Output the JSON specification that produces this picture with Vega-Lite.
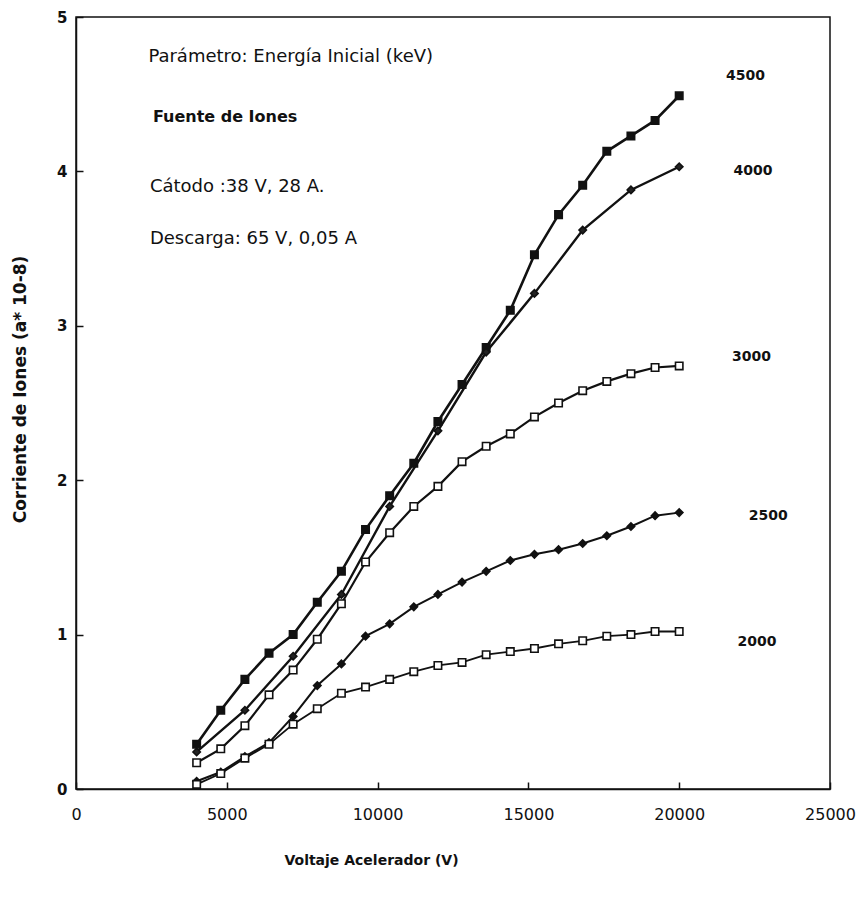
{
  "$schema": "https://vega.github.io/schema/vega-lite/v6.json",
  "autosize": "none",
  "padding": {"left": 76, "top": 17, "right": 33, "bottom": 113},
  "width": 754,
  "height": 772,
  "background": "white",
  "config": {
    "view": {"stroke": "#111", "strokeWidth": 1.5},
    "font": "DejaVu Sans"
  },
  "datasets": {
    "curves": [
      {"serie": "4500", "V": 4000, "I": 0.29}, {"serie": "4500", "V": 4800, "I": 0.51}, {"serie": "4500", "V": 5600, "I": 0.71}, {"serie": "4500", "V": 6400, "I": 0.88}, {"serie": "4500", "V": 7200, "I": 1.0}, {"serie": "4500", "V": 8000, "I": 1.21}, {"serie": "4500", "V": 8800, "I": 1.41}, {"serie": "4500", "V": 9600, "I": 1.68}, {"serie": "4500", "V": 10400, "I": 1.9}, {"serie": "4500", "V": 11200, "I": 2.11}, {"serie": "4500", "V": 12000, "I": 2.38}, {"serie": "4500", "V": 12800, "I": 2.62}, {"serie": "4500", "V": 13600, "I": 2.86}, {"serie": "4500", "V": 14400, "I": 3.1}, {"serie": "4500", "V": 15200, "I": 3.46}, {"serie": "4500", "V": 16000, "I": 3.72}, {"serie": "4500", "V": 16800, "I": 3.91}, {"serie": "4500", "V": 17600, "I": 4.13}, {"serie": "4500", "V": 18400, "I": 4.23}, {"serie": "4500", "V": 19200, "I": 4.33}, {"serie": "4500", "V": 20000, "I": 4.49},
      {"serie": "4000", "V": 4000, "I": 0.24}, {"serie": "4000", "V": 5600, "I": 0.51}, {"serie": "4000", "V": 7200, "I": 0.86}, {"serie": "4000", "V": 8800, "I": 1.26}, {"serie": "4000", "V": 10400, "I": 1.83}, {"serie": "4000", "V": 12000, "I": 2.32}, {"serie": "4000", "V": 13600, "I": 2.83}, {"serie": "4000", "V": 15200, "I": 3.21}, {"serie": "4000", "V": 16800, "I": 3.62}, {"serie": "4000", "V": 18400, "I": 3.88}, {"serie": "4000", "V": 20000, "I": 4.03},
      {"serie": "3000", "V": 4000, "I": 0.17}, {"serie": "3000", "V": 4800, "I": 0.26}, {"serie": "3000", "V": 5600, "I": 0.41}, {"serie": "3000", "V": 6400, "I": 0.61}, {"serie": "3000", "V": 7200, "I": 0.77}, {"serie": "3000", "V": 8000, "I": 0.97}, {"serie": "3000", "V": 8800, "I": 1.2}, {"serie": "3000", "V": 9600, "I": 1.47}, {"serie": "3000", "V": 10400, "I": 1.66}, {"serie": "3000", "V": 11200, "I": 1.83}, {"serie": "3000", "V": 12000, "I": 1.96}, {"serie": "3000", "V": 12800, "I": 2.12}, {"serie": "3000", "V": 13600, "I": 2.22}, {"serie": "3000", "V": 14400, "I": 2.3}, {"serie": "3000", "V": 15200, "I": 2.41}, {"serie": "3000", "V": 16000, "I": 2.5}, {"serie": "3000", "V": 16800, "I": 2.58}, {"serie": "3000", "V": 17600, "I": 2.64}, {"serie": "3000", "V": 18400, "I": 2.69}, {"serie": "3000", "V": 19200, "I": 2.73}, {"serie": "3000", "V": 20000, "I": 2.74},
      {"serie": "2500", "V": 4000, "I": 0.05}, {"serie": "2500", "V": 4800, "I": 0.11}, {"serie": "2500", "V": 5600, "I": 0.21}, {"serie": "2500", "V": 6400, "I": 0.3}, {"serie": "2500", "V": 7200, "I": 0.47}, {"serie": "2500", "V": 8000, "I": 0.67}, {"serie": "2500", "V": 8800, "I": 0.81}, {"serie": "2500", "V": 9600, "I": 0.99}, {"serie": "2500", "V": 10400, "I": 1.07}, {"serie": "2500", "V": 11200, "I": 1.18}, {"serie": "2500", "V": 12000, "I": 1.26}, {"serie": "2500", "V": 12800, "I": 1.34}, {"serie": "2500", "V": 13600, "I": 1.41}, {"serie": "2500", "V": 14400, "I": 1.48}, {"serie": "2500", "V": 15200, "I": 1.52}, {"serie": "2500", "V": 16000, "I": 1.55}, {"serie": "2500", "V": 16800, "I": 1.59}, {"serie": "2500", "V": 17600, "I": 1.64}, {"serie": "2500", "V": 18400, "I": 1.7}, {"serie": "2500", "V": 19200, "I": 1.77}, {"serie": "2500", "V": 20000, "I": 1.79},
      {"serie": "2000", "V": 4000, "I": 0.03}, {"serie": "2000", "V": 4800, "I": 0.1}, {"serie": "2000", "V": 5600, "I": 0.2}, {"serie": "2000", "V": 6400, "I": 0.29}, {"serie": "2000", "V": 7200, "I": 0.42}, {"serie": "2000", "V": 8000, "I": 0.52}, {"serie": "2000", "V": 8800, "I": 0.62}, {"serie": "2000", "V": 9600, "I": 0.66}, {"serie": "2000", "V": 10400, "I": 0.71}, {"serie": "2000", "V": 11200, "I": 0.76}, {"serie": "2000", "V": 12000, "I": 0.8}, {"serie": "2000", "V": 12800, "I": 0.82}, {"serie": "2000", "V": 13600, "I": 0.87}, {"serie": "2000", "V": 14400, "I": 0.89}, {"serie": "2000", "V": 15200, "I": 0.91}, {"serie": "2000", "V": 16000, "I": 0.94}, {"serie": "2000", "V": 16800, "I": 0.96}, {"serie": "2000", "V": 17600, "I": 0.99}, {"serie": "2000", "V": 18400, "I": 1.0}, {"serie": "2000", "V": 19200, "I": 1.02}, {"serie": "2000", "V": 20000, "I": 1.02}
    ],
    "labels": [
      {"label": "4500", "V": 22200, "I": 4.62},
      {"label": "4000", "V": 22450, "I": 4.0},
      {"label": "3000", "V": 22400, "I": 2.8},
      {"label": "2500", "V": 22950, "I": 1.77},
      {"label": "2000", "V": 22580, "I": 0.95}
    ],
    "notes": [
      {"text": "Parámetro: Energía Inicial (keV)", "V": 2400, "I": 4.74},
      {"text": "Cátodo :38 V, 28 A.", "V": 2450, "I": 3.9},
      {"text": "Descarga: 65 V, 0,05 A", "V": 2450, "I": 3.56}
    ],
    "boldnotes": [
      {"text": "Fuente de Iones", "V": 2550, "I": 4.35}
    ]
  },
  "encoding": {
    "x": {
      "field": "V", "type": "quantitative",
      "scale": {"domain": [0, 25000], "nice": false},
      "axis": {
        "values": [0, 5000, 10000, 15000, 20000, 25000],
        "format": "d", "grid": false,
        "domainColor": "#111", "domainWidth": 1.5,
        "tickColor": "#111", "tickSize": -7, "tickWidth": 1.5,
        "labelPadding": 24, "labelFontSize": 16, "labelColor": "#111", "labelFlush": false,
        "title": "Voltaje Acelerador (V)", "titleFontSize": 14, "titleFontWeight": "bold", "titleColor": "#111",
        "titleX": 295, "titleY": 71, "titleAlign": "center", "titleBaseline": "middle"
      }
    },
    "y": {
      "field": "I", "type": "quantitative",
      "scale": {"domain": [0, 5], "nice": false},
      "axis": {
        "values": [0, 1, 2, 3, 4, 5],
        "grid": false,
        "domainColor": "#111", "domainWidth": 1.5,
        "tickColor": "#111", "tickSize": -7, "tickWidth": 1.5,
        "labelPadding": 16, "labelFontSize": 15, "labelColor": "#111", "labelFontWeight": "bold",
        "title": "Corriente de Iones (a* 10-8)", "titleFontSize": 17, "titleFontWeight": "bold", "titleColor": "#111",
        "titleX": -56, "titleY": 372, "titleAlign": "center", "titleBaseline": "middle", "titleAngle": -90
      }
    }
  },
  "layer": [
    {
      "data": {"name": "curves"},
      "mark": {"type": "line", "color": "#111"},
      "encoding": {
        "detail": {"field": "serie", "type": "nominal"},
        "strokeWidth": {
          "field": "serie", "type": "nominal",
          "scale": {"domain": ["4500", "4000", "3000", "2500", "2000"], "range": [2.6, 1.8, 1.8, 1.6, 1.4]},
          "legend": null
        }
      }
    },
    {
      "data": {"name": "curves"},
      "mark": {"type": "point", "stroke": "#111", "strokeWidth": 1.6, "opacity": 1},
      "encoding": {
        "shape": {
          "field": "serie", "type": "nominal",
          "scale": {"domain": ["4500", "4000", "3000", "2500", "2000"], "range": ["square", "diamond", "square", "diamond", "square"]},
          "legend": null
        },
        "fill": {
          "field": "serie", "type": "nominal",
          "scale": {"domain": ["4500", "4000", "3000", "2500", "2000"], "range": ["#111", "#222", "white", "#111", "white"]},
          "legend": null
        },
        "size": {
          "field": "serie", "type": "nominal",
          "scale": {"domain": ["4500", "4000", "3000", "2500", "2000"], "range": [55, 55, 45, 45, 50]},
          "legend": null
        }
      }
    },
    {
      "data": {"name": "labels"},
      "mark": {"type": "text", "fontSize": 14, "fontWeight": "bold", "color": "#111", "align": "center", "baseline": "middle"},
      "encoding": {"text": {"field": "label", "type": "nominal"}}
    },
    {
      "data": {"name": "notes"},
      "mark": {"type": "text", "fontSize": 18, "color": "#111", "align": "left", "baseline": "middle"},
      "encoding": {"text": {"field": "text", "type": "nominal"}}
    },
    {
      "data": {"name": "boldnotes"},
      "mark": {"type": "text", "fontSize": 16, "fontWeight": "bold", "color": "#111", "align": "left", "baseline": "middle"},
      "encoding": {"text": {"field": "text", "type": "nominal"}}
    }
  ]
}
